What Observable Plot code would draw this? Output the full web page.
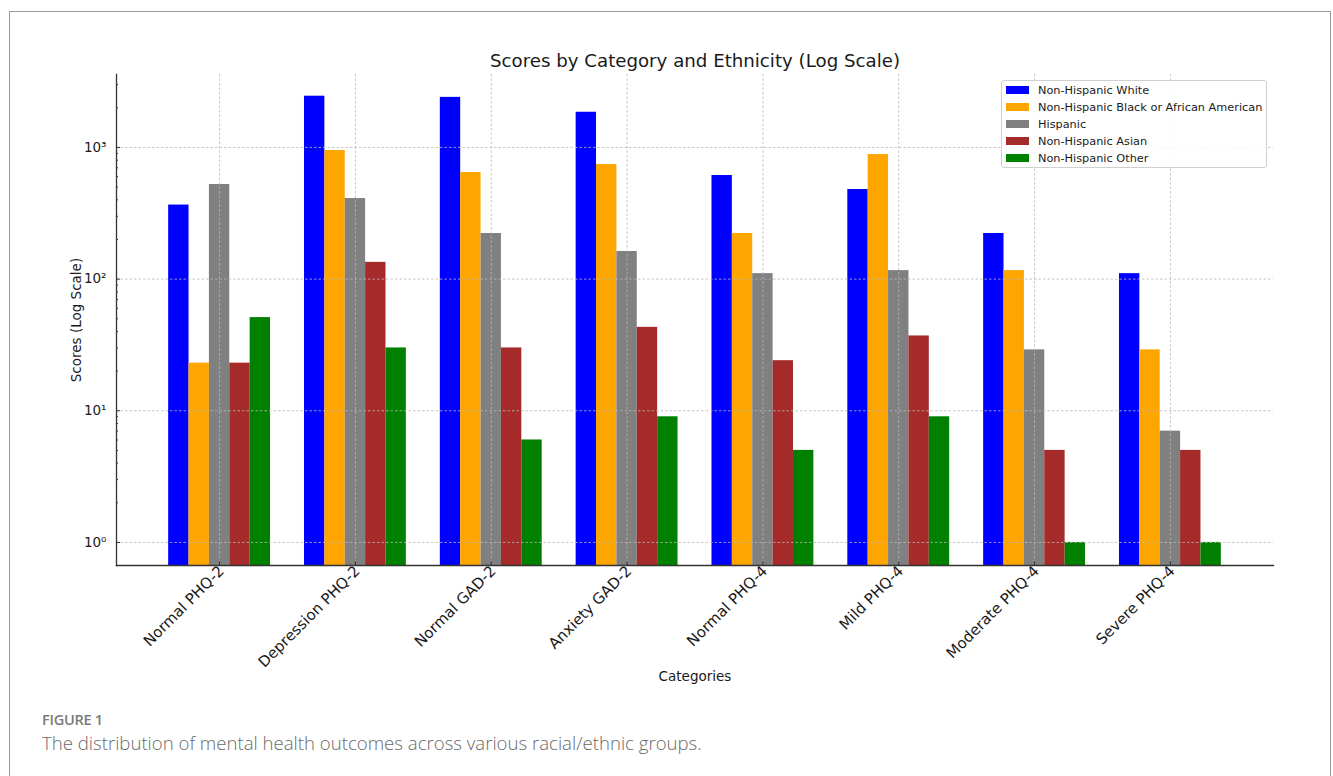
<!DOCTYPE html>
<html>
<head>
<meta charset="utf-8">
<script src="https://cdn.jsdelivr.net/npm/d3@7"></script>
<script src="https://cdn.jsdelivr.net/npm/@observablehq/plot@0.6"></script>
<style>
  html, body { margin: 0; padding: 0; background: #fff; overflow: hidden; }
  #page { position: relative; width: 1333px; height: 776px; }
  #frame { position: absolute; left: 9px; top: 11px; width: 1322px; height: 800px;
           border: 1px solid #999; box-sizing: border-box; }
  #chart { position: absolute; left: 0; top: 0; }
  #legend { position: absolute; left: 1001px; top: 80px; width: 266px; height: 88px;
            border: 1px solid #d0d0d0; border-radius: 3px; background: rgba(255,255,255,0.85);
            box-sizing: border-box; font-family: "DejaVu Sans", sans-serif; font-size: 11.3px; color: #1a1a1a; }
  .row { position: absolute; left: 0; height: 17px; line-height: 17px; white-space: nowrap; }
  .sw { position: absolute; left: 4px; top: 4.5px; width: 23px; height: 8px; }
  .lb { position: absolute; left: 36px; top: 0; }
  #figlabel { position: absolute; left: 42px; top: 709px; font-family: "Open Sans", sans-serif;
              font-weight: 600; font-size: 14.6px; color: #7a7a7a; letter-spacing: -0.3px; }
  #caption { position: absolute; left: 42px; top: 730px; font-family: "Open Sans", sans-serif;
             font-weight: 300; font-size: 18.6px; color: #6a6a6a; white-space: nowrap; }
</style>
</head>
<body>
<div id="page">
  <div id="frame"></div>
  <div id="chart"></div>
  <div id="legend"></div>
  <div id="figlabel">FIGURE 1</div>
  <div id="caption">The distribution of mental health outcomes across various racial/ethnic groups.</div>
</div>
<script>
// ---- data ----
const categories = ["Normal PHQ-2", "Depression PHQ-2", "Normal GAD-2", "Anxiety GAD-2",
                    "Normal PHQ-4", "Mild PHQ-4", "Moderate PHQ-4", "Severe PHQ-4"];
const ethnicities = ["Non-Hispanic White", "Non-Hispanic Black or African American",
                     "Hispanic", "Non-Hispanic Asian", "Non-Hispanic Other"];
const colors = ["#0000ff", "#ffa500", "#808080", "#a52a2a", "#008000"];
const white    = [365, 2450, 2400, 1850, 612, 479, 222, 110];
const black    = [23, 947, 645, 741, 222, 883, 116, 29];
const hispanic = [523, 409, 222, 162, 110, 116, 29, 7];
const asian    = [23, 134, 30, 43, 24, 37, 5, 5];
const other    = [51, 30, 6, 9, 5, 9, 1, 1];
const yTicks = [1, 10, 100, 1000];
const yMinorTicks = [2,3,4,5,6,7,8,9,20,30,40,50,60,70,80,90,200,300,400,500,600,700,800,900,2000,3000];
const yDomain = [0.668, 3580];
const titleText = "Scores by Category and Ethnicity (Log Scale)";
const yLabel = "Scores (Log Scale)";
const xLabel = "Categories";

const series = [white, black, hispanic, asian, other];
const rows = [];
ethnicities.forEach((e, i) => categories.forEach((c, j) => rows.push({ethnicity: e, category: c, value: series[i][j]})));

// ---- layout ----
const W = 1333, H = 700, mL = 116, mR = 60, mT = 74, mB = 135;
const padInner = 0.85, padOuter = 0.684;
const step = (W - mL - mR) / (categories.length - padInner + 2 * padOuter);
const barW = step * (1 - padInner);

const sup = {"0": "\u2070", "1": "\u00b9", "2": "\u00b2", "3": "\u00b3"};
const fmt = d => "10" + sup[String(Math.round(Math.log10(d)))];
const gridStyle = {stroke: "#b8b8b8", strokeOpacity: 1, strokeWidth: 0.8, strokeDasharray: "2.5,2"};

const barMarks = ethnicities.map((e, i) =>
  Plot.barY(rows.filter(r => r.ethnicity === e), {
    x: "category", y1: yDomain[0], y2: "value", fill: colors[i], dx: (i - 2) * barW
  })
);

const chart = Plot.plot({
  width: W, height: H,
  marginLeft: mL, marginRight: mR, marginTop: mT, marginBottom: mB,
  style: {fontFamily: "DejaVu Sans, sans-serif", color: "#1a1a1a", background: "transparent", overflow: "visible"},
  x: {type: "band", domain: categories, paddingInner: padInner, paddingOuter: padOuter, round: false},
  y: {type: "log", domain: yDomain},
  marks: [
    ...barMarks,
    Plot.gridY({ticks: yTicks, ...gridStyle}),
    Plot.gridX({...gridStyle}),
    Plot.axisY({ticks: yTicks, tickSize: 0, tickPadding: 10, tickFormat: fmt, fontSize: 13.5, label: null}),
    Plot.axisY({ticks: yTicks, tickSize: -4, tickFormat: () => "", label: null, stroke: "#333"}),
    Plot.axisY({ticks: yMinorTicks, tickSize: -2, tickFormat: () => "", label: null, stroke: "#333"}),
    Plot.axisX({tickSize: -4, tickFormat: () => "", label: null, stroke: "#333"}),
    Plot.axisX({tickSize: 0, tickRotate: -45, tickPadding: 3, dx: 2, fontSize: 15, label: null}),
    Plot.frame({anchor: "left", stroke: "#333", strokeWidth: 1.3}),
    Plot.frame({anchor: "bottom", stroke: "#333", strokeWidth: 1.3}),
    Plot.text([yLabel], {text: d => d, frameAnchor: "left", dx: -40, rotate: -90, fontSize: 13.5, textAnchor: "middle", lineAnchor: "middle"}),
    Plot.text([xLabel], {text: d => d, frameAnchor: "bottom", dy: 111, fontSize: 13.5, textAnchor: "middle", lineAnchor: "middle"}),
    Plot.text([titleText], {text: d => d, frameAnchor: "top", dy: -13, fontSize: 18.2, textAnchor: "middle", lineAnchor: "middle"})
  ]
});
document.getElementById("chart").appendChild(chart);

// ---- legend ----
const legend = document.getElementById("legend");
ethnicities.forEach((e, i) => {
  const row = document.createElement("div");
  row.className = "row";
  row.style.top = (0.5 + i * 17) + "px";
  const sw = document.createElement("div");
  sw.className = "sw";
  sw.style.background = colors[i];
  const lb = document.createElement("div");
  lb.className = "lb";
  lb.textContent = e;
  row.appendChild(sw); row.appendChild(lb);
  legend.appendChild(row);
});
</script>
</body>
</html>
